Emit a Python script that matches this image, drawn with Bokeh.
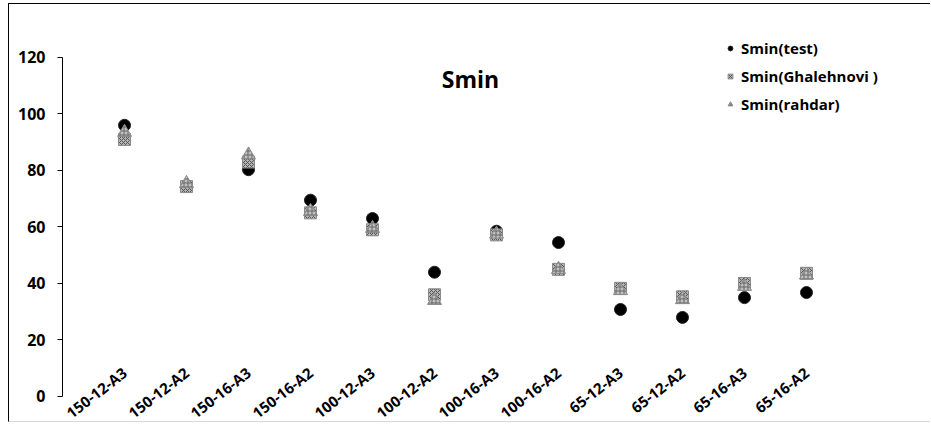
from bokeh.plotting import figure
from bokeh.models import (FactorRange, Range1d, LinearAxis, CategoricalAxis, FixedTicker,
                          Legend, LegendItem, Label, ColumnDataSource)
from bokeh.embed import file_html
from bokeh.resources import INLINE

categories = ["150-12-A3", "150-12-A2", "150-16-A3", "150-16-A2", "100-12-A3", "100-12-A2",
              "100-16-A3", "100-16-A2", "65-12-A3", "65-12-A2", "65-16-A3", "65-16-A2"]
smin_test = [96, 74.5, 80.3, 69.5, 63, 44, 58.5, 54.5, 30.8, 28, 35, 36.8]
smin_ghalehnovi = [91, 74.3, 83, 65, 59, 36, 57.2, 45, 38.3, 35.3, 40, 43.6]
smin_rahdar = [93.5, 75.4, 85.5, 65.5, 59.5, 34, 57.5, 45, 37.5, 34.3, 39, 43]
y_ticks = [0, 20, 40, 60, 80, 100, 120]

FONT = "Open Sans"

src = ColumnDataSource(dict(cat=categories, test=smin_test, gh=smin_ghalehnovi, ra=smin_rahdar))

p = figure(width=922, height=419, output_backend="svg", toolbar_location=None,
           x_range=FactorRange(factors=categories, range_padding=1.355, range_padding_units="absolute"),
           y_range=Range1d(-9.56, 138.76),
           x_axis_type=None, y_axis_type=None,
           min_border_left=0, min_border_right=10, min_border_top=0, min_border_bottom=0)
p.outline_line_color = None
p.xgrid.visible = False
p.ygrid.visible = False
p.styles = {"margin-left": "8px", "margin-top": "3px",
            "border-left": "1px solid #000", "border-top": "1px solid #000",
            "border-bottom": "1px solid #d8d8d8"}

yax = LinearAxis(ticker=FixedTicker(ticks=y_ticks), bounds=(0, 120), fixed_location=-0.5)
yax.axis_line_color = "black"
yax.major_tick_line_color = "black"
yax.major_tick_out = 5
yax.major_tick_in = 0
yax.minor_tick_line_color = None
yax.major_label_text_font = FONT
yax.major_label_text_font_style = "bold"
yax.major_label_text_font_size = "16px"
yax.major_label_text_color = "black"
yax.major_label_standoff = 12
p.add_layout(yax, "left")

xax = CategoricalAxis(fixed_location=12)
xax.axis_line_color = None
xax.major_tick_line_color = None
xax.minor_tick_line_color = None
xax.major_label_orientation = 0.66
xax.major_label_standoff = 2
xax.major_label_text_font = FONT
xax.major_label_text_font_style = "bold"
xax.major_label_text_font_size = "15px"
xax.major_label_text_color = "black"
p.add_layout(xax, "below")

r1 = p.scatter("cat", "test", source=src, marker="circle", size=12,
               fill_color="black", line_color="#222")
r2 = p.scatter("cat", "gh", source=src, marker="square", size=12,
               fill_color="#b5b5b5", line_color="#8a8a8a",
               hatch_pattern="x", hatch_color="#555555", hatch_scale=4, hatch_weight=1)
r3 = p.scatter("cat", "ra", source=src, marker="triangle", size=14,
               fill_color="#c0c0c0", line_color="#8a8a8a",
               hatch_pattern="+", hatch_color="#666666", hatch_scale=4, hatch_weight=1)

legend = Legend(items=[LegendItem(label="Smin(test)", renderers=[r1]),
                       LegendItem(label="Smin(Ghalehnovi )", renderers=[r2]),
                       LegendItem(label="Smin(rahdar)", renderers=[r3])],
                location=(715, 309))
legend.border_line_color = None
legend.background_fill_alpha = 0
legend.padding = 0
legend.margin = 0
legend.spacing = 8
legend.glyph_width = 12
legend.glyph_height = 20
legend.label_height = 20
legend.label_standoff = 5
legend.label_text_font = FONT
legend.label_text_font_style = "bold"
legend.label_text_font_size = "15px"
legend.label_text_color = "black"
p.add_layout(legend)

title = Label(x=461, y=345, x_units="screen", y_units="screen", text="Smin",
              text_font=FONT, text_font_style="bold", text_font_size="23px",
              text_align="center", text_baseline="middle", text_color="black")
p.add_layout(title)

open("out.html", "w").write(file_html(p, INLINE))
